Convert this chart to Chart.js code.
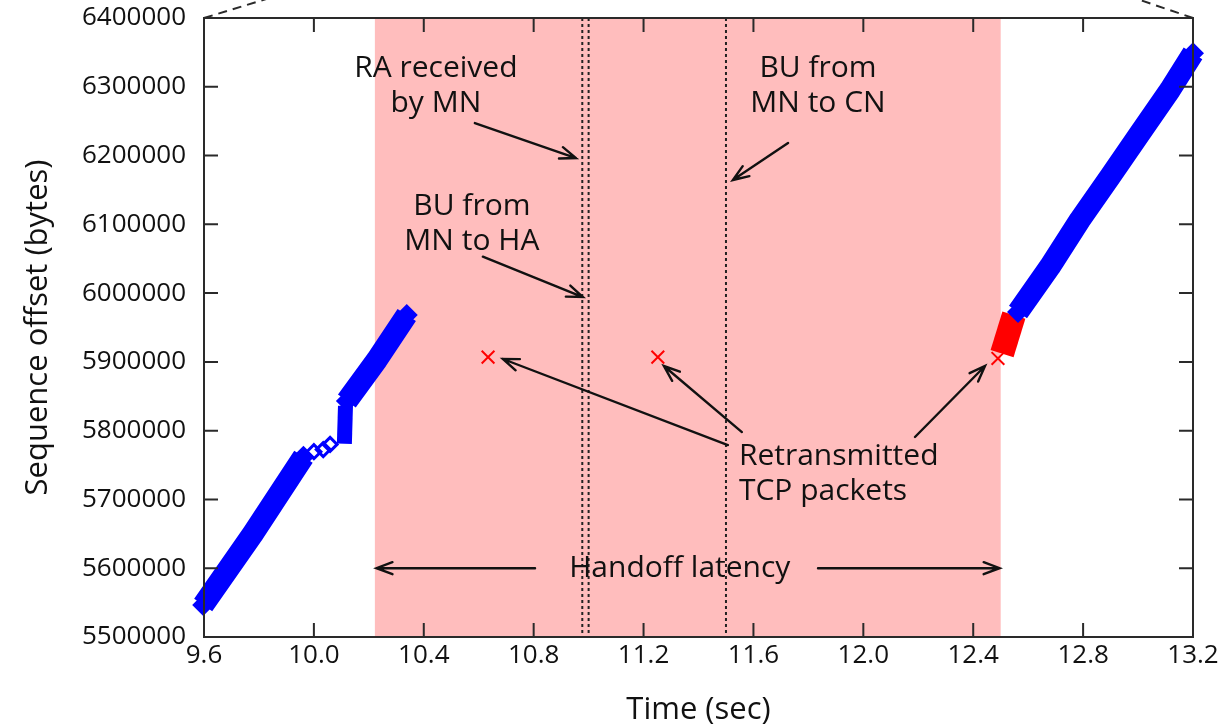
<!DOCTYPE html>
<html>
<head>
<meta charset="utf-8">
<script src="https://cdn.jsdelivr.net/npm/chart.js@4.4.1/dist/chart.umd.min.js"></script>
<style>
  html, body { margin: 0; padding: 0; background: #ffffff; }
  #wrap { width: 1232px; height: 728px; }
</style>
</head>
<body>
<div id="wrap"><canvas id="trace" width="1232" height="728"></canvas></div>
<script>
// Axis ticks
const xTicks = [9.6, 10.0, 10.4, 10.8, 11.2, 11.6, 12.0, 12.4, 12.8, 13.2];
const yTicks = [5500000, 5600000, 5700000, 5800000, 5900000, 6000000, 6100000, 6200000, 6300000, 6400000];

// Sequence trace before the handoff (time in s, offset in bytes)
const preTime = [9.597, 9.779, 9.962];
const preSeq = [5546500, 5650700, 5762000];
// Stalled segments around the kink
const stallTime = [10.0, 10.034, 10.059];
const stallSeq = [5769400, 5772500, 5780000];
// Burst of segments sent at nearly the same instant
const burstTime = [10.111, 10.115];
const burstSeq = [5781000, 5836000];
// Flow resumes until the link is lost
const resumeTime = [10.12, 10.229, 10.338];
const resumeSeq = [5843000, 5902700, 5968200];
// Sequence trace after the handoff
const postTime = [12.563, 12.679, 12.788, 12.898, 13.007, 13.116, 13.2];
const postSeq = [5972500, 6038400, 6106300, 6169300, 6232300, 6295300, 6348700];
// Retransmitted TCP packets
const retxBurstTime = [12.505, 12.548];
const retxBurstSeq = [5912000, 5968000];
const retxTime = [10.634, 11.252, 12.49];
const retxSeq = [5907000, 5907000, 5905000];

// Handoff latency window and signalling events (s)
const handoffWindow = [10.222, 12.5];
const eventTimes = [10.977, 11.0, 11.5];

const pts = (ts, vs) => ts.map((t, i) => ({ x: t, y: vs[i] }));
const BLUE = '#0000ff';
const RED = '#ff0000';
const INK = '#111111';
const FONT = '"Open Sans", "Noto Sans", sans-serif';

function endDiamond(n) {
  return ctx => (ctx.dataIndex === 0 || ctx.dataIndex === n - 1) ? 11 : 0;
}

function bandDataset(ts, vs, color, width, caps) {
  return {
    data: pts(ts, vs),
    showLine: true,
    borderColor: color,
    backgroundColor: color,
    borderWidth: width,
    borderCapStyle: 'butt',
    borderJoinStyle: 'round',
    pointStyle: 'rectRot',
    pointRadius: caps ? endDiamond(ts.length) : 0,
    pointBorderWidth: 0,
    pointBackgroundColor: color,
    clip: false
  };
}

const annotations = {
  arrows: [
    [10.586, 6247300, 10.954, 6196400],
    [11.726, 6218250, 11.525, 6164450],
    [10.615, 6053000, 10.979, 5994300],
    [11.507, 5779100, 10.688, 5904200],
    [11.558, 5798000, 11.274, 5894000],
    [12.188, 5790800, 12.443, 5894000],
    [10.805, 5600000, 10.228, 5600000],
    [11.835, 5600000, 12.496, 5600000]
  ],
  labels: [
    { lines: ['RA received', 'by MN'], t: 10.444, v: 6314200, align: 'center' },
    { lines: ['BU from', 'MN to CN'], t: 11.835, v: 6314200, align: 'center' },
    { lines: ['BU from', 'MN to HA'], t: 10.575, v: 6113600, align: 'center' },
    { lines: ['Retransmitted', 'TCP packets'], t: 11.547, v: 5750000, align: 'left' }
  ]
};

function drawArrow(ctx, x1, y1, x2, y2) {
  const a = Math.atan2(y2 - y1, x2 - x1);
  const L = 17, spread = 0.36;
  ctx.beginPath();
  ctx.moveTo(x1, y1);
  ctx.lineTo(x2, y2);
  ctx.moveTo(x2 - L * Math.cos(a - spread), y2 - L * Math.sin(a - spread));
  ctx.lineTo(x2, y2);
  ctx.lineTo(x2 - L * Math.cos(a + spread), y2 - L * Math.sin(a + spread));
  ctx.stroke();
}

const decor = {
  id: 'decor',
  beforeDatasetsDraw(chart) {
    const { ctx, chartArea: a, scales: { x } } = chart;
    ctx.save();
    const x0 = x.getPixelForValue(handoffWindow[0]);
    const x1 = x.getPixelForValue(handoffWindow[1]);
    ctx.fillStyle = '#ffbdbd';
    ctx.fillRect(x0, a.top, x1 - x0, a.bottom - a.top);
    ctx.strokeStyle = '#222';
    ctx.lineWidth = 2;
    ctx.setLineDash([3, 3]);
    eventTimes.forEach(t => {
      const p = x.getPixelForValue(t);
      ctx.beginPath();
      ctx.moveTo(p, a.top);
      ctx.lineTo(p, a.bottom);
      ctx.stroke();
    });
    ctx.restore();
  },
  afterDatasetsDraw(chart) {
    const { ctx, chartArea: a, scales: { x, y } } = chart;
    ctx.save();
    // frame with inward ticks on all four sides
    ctx.strokeStyle = '#2a2a2a';
    ctx.lineWidth = 2;
    ctx.strokeRect(a.left, a.top, a.right - a.left, a.bottom - a.top);
    const T = 14;
    ctx.beginPath();
    xTicks.forEach(t => {
      const p = x.getPixelForValue(t);
      ctx.moveTo(p, a.bottom); ctx.lineTo(p, a.bottom - T);
      ctx.moveTo(p, a.top); ctx.lineTo(p, a.top + T);
    });
    yTicks.forEach(v => {
      const p = y.getPixelForValue(v);
      ctx.moveTo(a.left, p); ctx.lineTo(a.left + T, p);
      ctx.moveTo(a.right, p); ctx.lineTo(a.right - T, p);
    });
    ctx.stroke();

    // zoom guide lines above the frame
    ctx.setLineDash([9, 6]);
    ctx.beginPath();
    ctx.moveTo(a.left, a.top); ctx.lineTo(a.left + 59 * 1.6, a.top - 18 * 1.6);
    ctx.moveTo(a.right, a.top); ctx.lineTo(a.right - 53 * 1.6, a.top - 18 * 1.6);
    ctx.stroke();
    ctx.setLineDash([]);

    // annotation arrows
    ctx.strokeStyle = INK;
    ctx.lineWidth = 2.4;
    ctx.lineCap = 'round';
    annotations.arrows.forEach(([t1, v1, t2, v2]) => {
      drawArrow(ctx, x.getPixelForValue(t1), y.getPixelForValue(v1),
                x.getPixelForValue(t2), y.getPixelForValue(v2));
    });

    // annotation text
    ctx.fillStyle = INK;
    ctx.font = '30px ' + FONT;
    ctx.textBaseline = 'alphabetic';
    annotations.labels.forEach(l => {
      ctx.textAlign = l.align;
      const px = x.getPixelForValue(l.t);
      const py = y.getPixelForValue(l.v);
      l.lines.forEach((s, i) => ctx.fillText(s, px, py + i * 35));
    });

    // handoff latency caption
    ctx.textAlign = 'center';
    ctx.textBaseline = 'middle';
    ctx.fillText('Handoff latency', x.getPixelForValue(11.332), y.getPixelForValue(5600000));

    // axis titles
    ctx.font = '31px ' + FONT;
    ctx.fillText('Time (sec)', (a.left + a.right) / 2, 710);
    ctx.translate(38, (a.top + a.bottom) / 2);
    ctx.rotate(-Math.PI / 2);
    ctx.fillText('Sequence offset (bytes)', 0, 0);
    ctx.restore();
  }
};

new Chart(document.getElementById('trace'), {
  type: 'scatter',
  data: {
    datasets: [
      bandDataset(preTime, preSeq, BLUE, 22, true),
      {
        data: pts(stallTime, stallSeq),
        pointStyle: 'rectRot',
        pointRadius: 7,
        pointBorderWidth: 3,
        pointBorderColor: BLUE,
        pointBackgroundColor: 'rgba(0,0,0,0)',
        clip: false
      },
      bandDataset(burstTime, burstSeq, BLUE, 15, false),
      bandDataset(resumeTime, resumeSeq, BLUE, 22, true),
      bandDataset(postTime, postSeq, BLUE, 22, true),
      bandDataset(retxBurstTime, retxBurstSeq, RED, 24, false),
      {
        data: pts(retxTime, retxSeq),
        pointStyle: 'crossRot',
        pointRadius: 9,
        pointBorderWidth: 2,
        pointBorderColor: RED,
        clip: false
      }
    ]
  },
  options: {
    responsive: false,
    animation: false,
    events: [],
    layout: { padding: { left: 0, right: 39, top: 18, bottom: 0 } },
    plugins: { legend: { display: false }, tooltip: { enabled: false } },
    scales: {
      x: {
        type: 'linear',
        min: 9.6,
        max: 13.2,
        afterBuildTicks: s => { s.ticks = xTicks.map(v => ({ value: v })); },
        afterFit: s => { s.height = 91; s.paddingLeft = 0; s.paddingRight = 0; },
        grid: { display: false, drawTicks: false },
        border: { display: false },
        ticks: {
          padding: 3,
          autoSkip: false,
          maxRotation: 0,
          color: INK,
          font: { family: FONT, size: 26 },
          callback: v => Number(v).toFixed(1)
        }
      },
      y: {
        type: 'linear',
        min: 5500000,
        max: 6400000,
        afterBuildTicks: s => { s.ticks = yTicks.map(v => ({ value: v })); },
        afterFit: s => { s.width = 204; s.paddingTop = 0; s.paddingBottom = 0; },
        grid: { display: false, drawTicks: false },
        border: { display: false },
        ticks: {
          padding: 18,
          autoSkip: false,
          color: INK,
          font: { family: FONT, size: 26 },
          callback: v => String(v)
        }
      }
    }
  },
  plugins: [decor]
});
</script>
</body>
</html>
